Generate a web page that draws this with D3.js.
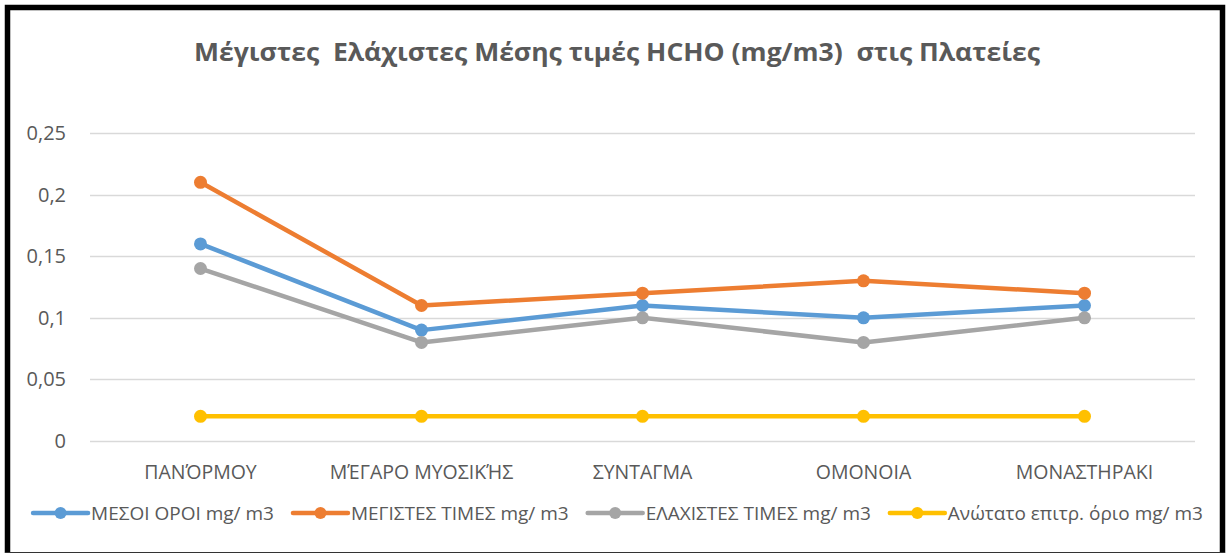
<!DOCTYPE html>
<html>
<head>
<meta charset="utf-8">
<script src="https://cdn.jsdelivr.net/npm/d3@7"></script>
<style>
  body { margin: 0; background: #fff; }
  svg text { font-family: 'Open Sans', 'Noto Sans', sans-serif; }
</style>
</head>
<body>
<div id="chart"></div>
<script>
const categories = ['ΠΑΝΌΡΜΟΥ', 'ΜΈΓΑΡΟ ΜΥΟΣΙΚΉΣ', 'ΣΥΝΤΑΓΜΑ', 'ΟΜΟΝΟΙΑ', 'ΜΟΝΑΣΤΗΡΑΚΙ'];
const meanValues = [0.16, 0.09, 0.11, 0.10, 0.11];
const maxValues = [0.21, 0.11, 0.12, 0.13, 0.12];
const minValues = [0.14, 0.08, 0.10, 0.08, 0.10];
const limitValues = [0.02, 0.02, 0.02, 0.02, 0.02];
const yTicks = [0, 0.05, 0.1, 0.15, 0.2, 0.25];
const seriesNames = ['ΜΕΣΟΙ ΟΡΟΙ mg/ m3', 'ΜΕΓΙΣΤΕΣ ΤΙΜΕΣ mg/ m3', 'ΕΛΑΧΙΣΤΕΣ ΤΙΜΕΣ mg/ m3', 'Ανώτατο επιτρ. όριο mg/ m3'];
const titleText = 'Μέγιστες  Ελάχιστες Μέσης τιμές HCHO (mg/m3)  στις Πλατείες';

const config = {
  width: 1226,
  height: 554,
  plot: { left: 90, right: 1195, top: 133, bottom: 441 },
  colors: ['#5B9BD5', '#ED7D31', '#A5A5A5', '#FFC000'],
  text: '#595959',
  grid: '#D9D9D9',
};

const series = [meanValues, maxValues, minValues, limitValues].map((values, i) => ({
  name: seriesNames[i],
  color: config.colors[i],
  values,
}));

const svg = d3.select('#chart')
  .append('svg')
  .attr('width', config.width)
  .attr('height', config.height);

// frame: heavy black on left/top/right, thin line at the bottom
svg.append('rect')
  .attr('x', 0).attr('y', 0)
  .attr('width', config.width).attr('height', config.height)
  .attr('fill', '#fff');
svg.append('path')
  .attr('d', 'M7.5,553 V7.5 H1222.5 V553')
  .attr('fill', 'none')
  .attr('stroke', '#000')
  .attr('stroke-width', 5.5);
svg.append('line')
  .attr('x1', 5).attr('x2', 1225)
  .attr('y1', 552.5).attr('y2', 552.5)
  .attr('stroke', '#333')
  .attr('stroke-width', 1.2);

// title
svg.append('text')
  .attr('x', 617)
  .attr('y', 61)
  .attr('text-anchor', 'middle')
  .attr('fill', config.text)
  .attr('font-size', 25)
  .attr('font-weight', 'bold')
  .attr('textLength', 846)
  .attr('lengthAdjust', 'spacingAndGlyphs')
  .style('white-space', 'pre')
  .text(titleText);

const x = d3.scaleBand()
  .domain(categories)
  .range([config.plot.left, config.plot.right]);

const y = d3.scaleLinear()
  .domain([0, 0.25])
  .range([config.plot.bottom, config.plot.top]);

// gridlines
svg.append('g')
  .selectAll('line')
  .data(yTicks)
  .join('line')
  .attr('x1', config.plot.left)
  .attr('x2', config.plot.right)
  .attr('y1', (d) => Math.round(y(d)) + 0.5)
  .attr('y2', (d) => Math.round(y(d)) + 0.5)
  .attr('stroke', config.grid)
  .attr('stroke-width', 1.4);

const commaFormat = (d) => String(d).replace('.', ',');

// y axis labels
const yAxis = svg.append('g')
  .attr('transform', `translate(${config.plot.left - 24},0)`)
  .call(d3.axisLeft(y).tickValues(yTicks).tickFormat(commaFormat).tickSize(0).tickPadding(0));
yAxis.select('.domain').remove();
yAxis.selectAll('text')
  .attr('fill', config.text)
  .attr('font-size', 20)
  .attr('font-family', "'Open Sans', sans-serif");

// x axis labels
const xAxis = svg.append('g')
  .attr('transform', `translate(0,${config.plot.bottom})`)
  .call(d3.axisBottom(x).tickSize(0).tickPadding(24));
xAxis.select('.domain').remove();
xAxis.selectAll('text')
  .attr('fill', config.text)
  .attr('font-size', 19.5)
  .attr('font-family', "'Open Sans', sans-serif");

// lines and markers
const line = d3.line()
  .x((d, i) => x(categories[i]) + x.bandwidth() / 2)
  .y((d) => y(d));

const seriesG = svg.append('g')
  .selectAll('g')
  .data(series)
  .join('g');

seriesG.append('path')
  .attr('d', (d) => line(d.values))
  .attr('fill', 'none')
  .attr('stroke', (d) => d.color)
  .attr('stroke-width', 4.5)
  .attr('stroke-linejoin', 'round')
  .attr('stroke-linecap', 'round');

seriesG.selectAll('circle')
  .data((d) => d.values.map((v, i) => ({ v, i, color: d.color })))
  .join('circle')
  .attr('cx', (d) => x(categories[d.i]) + x.bandwidth() / 2)
  .attr('cy', (d) => y(d.v))
  .attr('r', 6.5)
  .attr('fill', (d) => d.color);

// legend, laid out left to right and centred
const legendY = 513;
const legend = svg.append('g');
const items = legend.selectAll('g')
  .data(series)
  .join('g');

items.append('line')
  .attr('x1', 0).attr('x2', 55)
  .attr('y1', 0).attr('y2', 0)
  .attr('stroke', (d) => d.color)
  .attr('stroke-width', 4.5)
  .attr('stroke-linecap', 'round');
items.append('circle')
  .attr('cx', 27.5)
  .attr('cy', 0)
  .attr('r', 6)
  .attr('fill', (d) => d.color);
items.append('text')
  .attr('x', 58)
  .attr('y', 7)
  .attr('fill', config.text)
  .attr('font-size', 19)
  .text((d) => d.name);

let cursor = 0;
const gap = 19;
items.each(function () {
  const w = this.getBBox().width;
  d3.select(this).attr('data-x', cursor);
  cursor += w + gap;
});
const totalWidth = cursor - gap;
const startX = 618 - totalWidth / 2;
items.attr('transform', function () {
  return `translate(${startX + +this.getAttribute('data-x')},${legendY})`;
});
</script>
</body>
</html>
